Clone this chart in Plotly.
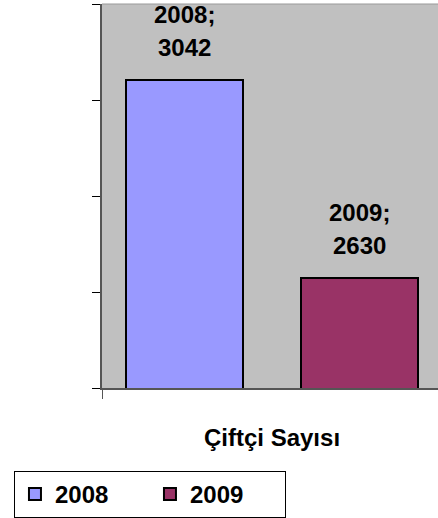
import plotly.graph_objects as go

categories = ["Çiftçi Sayısı"]
series_names = ["2008", "2009"]
values_2008 = [3042]
values_2009 = [2630]
colors = ["#9999FF", "#993366"]
y_ticks = [2400, 2600, 2800, 3000, 3200]

FONT = "Liberation Sans, Arial, sans-serif"
FS = 24
bar_width = 0.346
offsets = [-0.430, 0.084]

fig = go.Figure()
for name, vals, col, off in zip(series_names, [values_2008, values_2009], colors, offsets):
    fig.add_trace(go.Bar(
        x=categories, y=vals, name=name,
        marker=dict(color=col, line=dict(color="black", width=2)),
        width=bar_width, offset=off,
    ))

annotations = []
for name, vals, off in zip(series_names, [values_2008, values_2009], offsets):
    cx = off + bar_width / 2
    annotations.append(dict(x=cx, y=vals[0], xref="x", yref="y", text=f"{vals[0]}",
                            showarrow=False, yanchor="middle", yshift=32,
                            font=dict(family=FONT, size=FS, color="black", weight="bold")))
    annotations.append(dict(x=cx, y=vals[0], xref="x", yref="y", text=f"{name};",
                            showarrow=False, yanchor="middle", yshift=65,
                            font=dict(family=FONT, size=FS, color="black", weight="bold")))
annotations.append(dict(x=0, y=0, xref="x", yref="paper", text=categories[0],
                        showarrow=False, yanchor="middle", yshift=-49,
                        font=dict(family=FONT, size=FS, color="black", weight="bold")))

fig.update_layout(
    width=438, height=518,
    margin=dict(l=102, r=0, t=4, b=130, autoexpand=False),
    paper_bgcolor="white", plot_bgcolor="#C0C0C0",
    showlegend=True,
    legend=dict(orientation="h", x=-0.262, xanchor="left", y=-0.338, yanchor="bottom",
                bordercolor="black", borderwidth=1, bgcolor="white",
                font=dict(family=FONT, size=FS, color="black", weight="bold"),
                entrywidth=90, entrywidthmode="pixels", itemwidth=30,
                tracegroupgap=0),
    annotations=annotations,
    bargap=0, bargroupgap=0,
)
fig.update_xaxes(range=[-0.5, 0.488], showticklabels=False, ticks="outside", tickson="boundaries",
                 ticklen=9, tickcolor="#555555", showline=True, linecolor="#555555", linewidth=2,
                 showgrid=False, zeroline=False)
fig.update_yaxes(range=[2400, 3200], tickvals=y_ticks, showticklabels=False, ticks="outside",
                 ticklen=8, tickcolor="black", tickwidth=1, showline=True, linecolor="#555555",
                 linewidth=2, showgrid=False, zeroline=False)
fig.add_shape(type="line", xref="paper", yref="paper", x0=0, x1=1, y0=1, y1=1,
              line=dict(color="#999999", width=1))

fig.write_html("out.html", config={"displayModeBar": False},
               post_script="document.body.style.margin='0';")
